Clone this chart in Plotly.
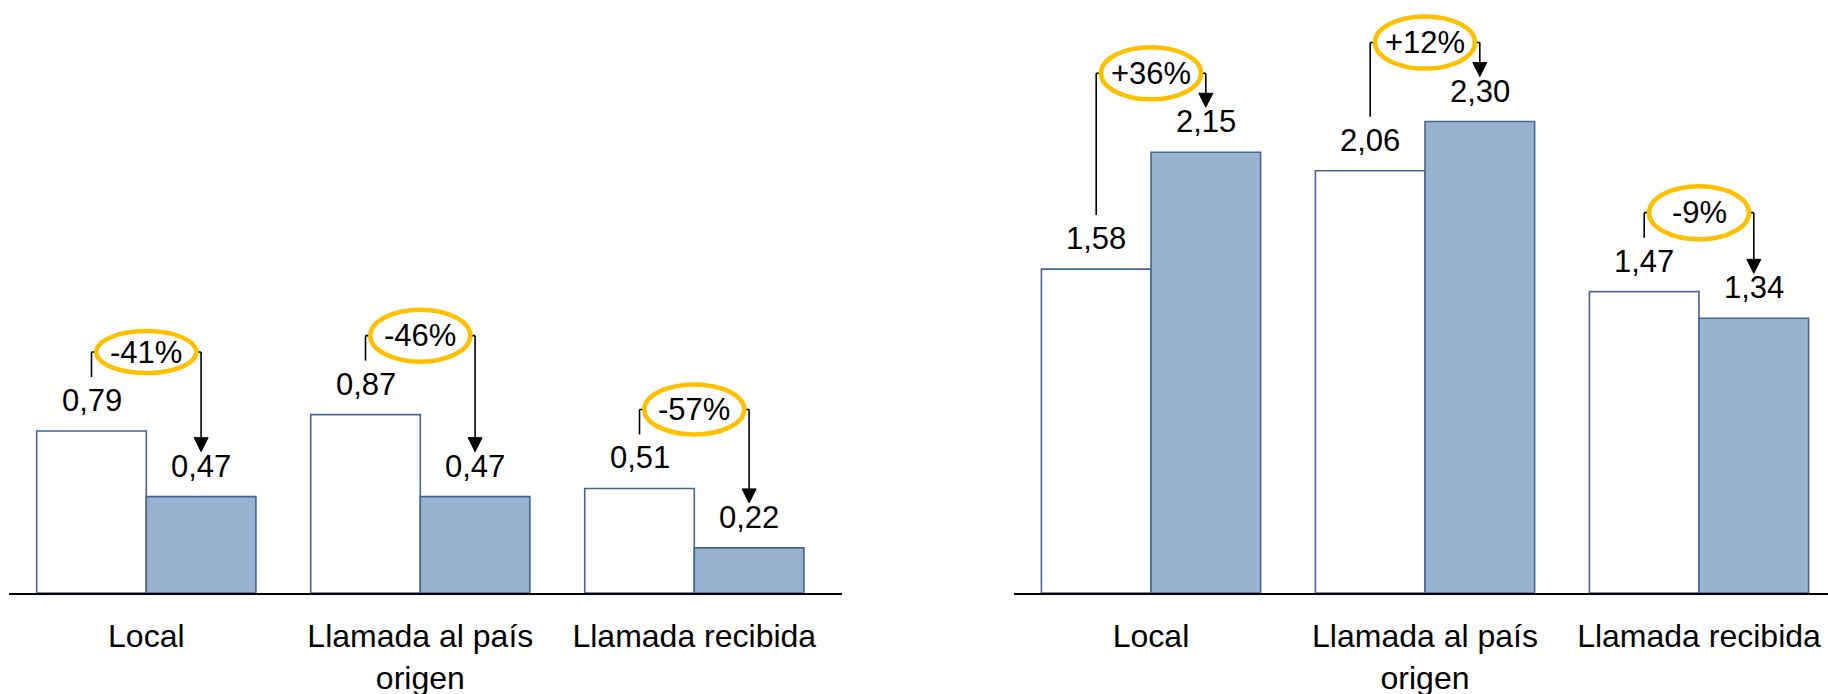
import plotly.graph_objects as go

# ---------------- data ----------------
categories = ["Local", "Llamada al país<br>origen", "Llamada recibida"]

left_before = [0.79, 0.87, 0.51]
left_after = [0.47, 0.47, 0.22]
left_change = ["-41%", "-46%", "-57%"]

right_before = [1.58, 2.06, 1.47]
right_after = [2.15, 2.30, 1.34]
right_change = ["+36%", "+12%", "-9%"]

# ---------------- style / geometry ----------------
W, H = 1828, 694
FONT = "Liberation Sans, Arial, sans-serif"
EDGE = "#46668F"
FILL = "#98B2D0"
GOLD = "#FFC000"
VAL_SIZE = 31
CAT_SIZE = 32

MARGIN_B = 101
PLOT_H = H - MARGIN_B
PX_PER_UNIT = 205.0
PX_PER_CAT = 274.0
Y_MAX = PLOT_H / PX_PER_UNIT

LEFT_X0_PX = 9.3
RIGHT_X0_PX = 1014.0
LEFT_RANGE = [-0.5, 2.54]
RIGHT_RANGE = [-0.5, -0.5 + (W - RIGHT_X0_PX) / PX_PER_CAT]
left_domain = [LEFT_X0_PX / W,
               (LEFT_X0_PX + (LEFT_RANGE[1] - LEFT_RANGE[0]) * PX_PER_CAT) / W]
right_domain = [RIGHT_X0_PX / W, 1.0]

left_ellipse_h = [46, 56, 54]
right_ellipse_h = [56, 56, 57]


def u(px):
    return px / PX_PER_UNIT


def c(px):
    return px / PX_PER_CAT


def fmt(v):
    return f"{v:.2f}".replace(".", ",")


fig = go.Figure()
annotations = []
shapes = []

panels = [
    (left_before, left_after, left_change, left_ellipse_h, "x", "y"),
    (right_before, right_after, right_change, right_ellipse_h, "x2", "y2"),
]

for before, after, change, ell_h, xa, ya in panels:
    fig.add_trace(go.Bar(
        x=categories, y=before, xaxis=xa, yaxis=ya,
        marker=dict(color="white", line=dict(color=EDGE, width=1.6)),
        showlegend=False, hoverinfo="skip"))
    fig.add_trace(go.Bar(
        x=categories, y=after, xaxis=xa, yaxis=ya,
        marker=dict(color=FILL, line=dict(color=EDGE, width=1.6)),
        showlegend=False, hoverinfo="skip"))

    for i, (b, a, lab, eh) in enumerate(zip(before, after, change, ell_h)):
        xl, xr = i - 0.2, i + 0.2
        # value labels
        for xv, v in ((xl, b), (xr, a)):
            annotations.append(dict(
                x=xv, y=v, xref=xa, yref=ya, text=fmt(v), showarrow=False,
                yanchor="bottom", yshift=11,
                font=dict(family=FONT, size=VAL_SIZE, color="black")))
        level = max(a, b) + u(79)
        y_left_bottom = b + u(54)
        tip = a + u(45)
        head = u(14)
        line = dict(color="black", width=1.6)
        shapes.append(dict(type="line", xref=xa, yref=ya, x0=xl, x1=xl,
                           y0=y_left_bottom, y1=level, line=line, layer="above"))
        shapes.append(dict(type="line", xref=xa, yref=ya, x0=xl, x1=xr,
                           y0=level, y1=level, line=line, layer="above"))
        shapes.append(dict(type="line", xref=xa, yref=ya, x0=xr, x1=xr,
                           y0=level, y1=tip + head, line=line, layer="above"))
        shapes.append(dict(
            type="path", xref=xa, yref=ya, layer="above",
            path=(f"M {xr - c(7)},{tip + head} L {xr + c(7)},{tip + head} "
                  f"L {xr},{tip} Z"),
            fillcolor="black", line=dict(color="black", width=1)))
        # ellipse
        shapes.append(dict(
            type="circle", xref=xa, yref=ya, layer="above",
            x0=i - c(50), x1=i + c(50),
            y0=level - u(eh / 2 - 2), y1=level + u(eh / 2 - 2),
            fillcolor="white", line=dict(color=GOLD, width=4.5)))
        annotations.append(dict(
            x=i, y=level, xref=xa, yref=ya, text=lab, showarrow=False,
            yanchor="middle", font=dict(family=FONT, size=VAL_SIZE, color="black")))

xaxis_common = dict(
    type="category", showgrid=False, zeroline=False, showline=True,
    linecolor="black", linewidth=2, ticks="", tickangle=0,
    tickfont=dict(family=FONT, size=CAT_SIZE, color="black"),
    ticklabelstandoff=14, automargin=False, fixedrange=True)
yaxis_common = dict(range=[0, Y_MAX], visible=False, showgrid=False,
                    zeroline=False, fixedrange=True)

fig.update_layout(
    width=W, height=H,
    margin=dict(l=0, r=0, t=0, b=MARGIN_B, pad=0),
    paper_bgcolor="white", plot_bgcolor="white",
    barmode="group", bargap=0.2, bargroupgap=0,
    showlegend=False,
    xaxis=dict(domain=left_domain, range=LEFT_RANGE, anchor="y", **xaxis_common),
    yaxis=dict(domain=[0, 1], anchor="x", **yaxis_common),
    xaxis2=dict(domain=right_domain, range=RIGHT_RANGE, anchor="y2", **xaxis_common),
    yaxis2=dict(domain=[0, 1], anchor="x2", **yaxis_common),
    annotations=annotations,
    shapes=shapes,
)

fig.write_html(
    "out.html",
    config={"displayModeBar": False},
    post_script="document.body.style.margin='0';document.body.style.overflow='hidden';",
)
